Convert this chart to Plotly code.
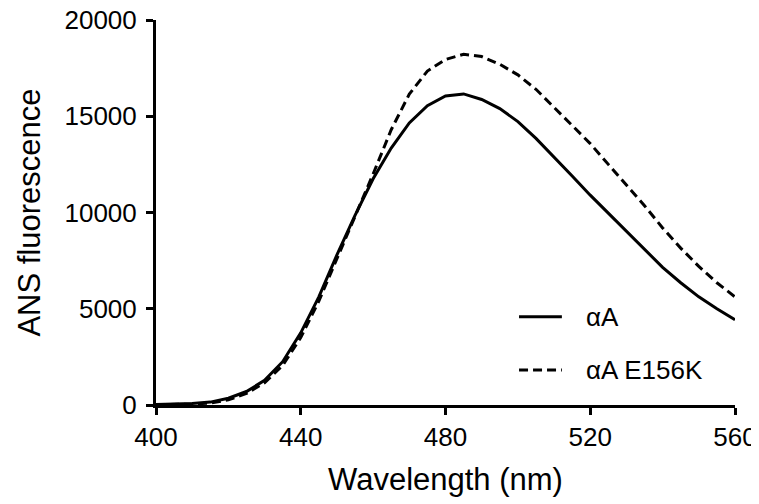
import plotly.graph_objects as go

wavelength = list(range(400, 561, 5))

alphaA = [20, 40, 80, 150, 350, 700, 1280, 2250, 3750, 5620, 7800, 9850, 11750,
          13350, 14650, 15550, 16050, 16160, 15870, 15400, 14720, 13850, 12900,
          11900, 10900, 9950, 9000, 8050, 7150, 6350, 5620, 5000, 4430]

alphaA_E156K = [10, 25, 50, 100, 270, 600, 1150, 2050, 3500, 5400, 7600, 9800, 12000,
                14300, 16150, 17350, 17950, 18220, 18100, 17700, 17150, 16400, 15470,
                14520, 13580, 12500, 11450, 10350, 9200, 8150, 7200, 6350, 5620]

series_names = ["αA", "αA E156K"]
x_ticks = [400, 440, 480, 520, 560]
y_ticks = [0, 5000, 10000, 15000, 20000]
y_tick_labels = ["0", "5000", "10000", "15000", "20000"]

FONT = "Liberation Sans, Arial, Helvetica, sans-serif"

fig = go.Figure()
fig.add_trace(go.Scatter(x=wavelength, y=alphaA, mode="lines", name=series_names[0],
                         line=dict(color="black", width=3), showlegend=False))
fig.add_trace(go.Scatter(x=wavelength, y=alphaA_E156K, mode="lines", name=series_names[1],
                         line=dict(color="black", width=3, dash="9px,5px"), showlegend=False))

# manual legend (paper coordinates)
legend_rows = [(0.229, "solid", series_names[0]), (0.091, "9px,5px", series_names[1])]
for yy, dash, label in legend_rows:
    fig.add_shape(type="line", xref="paper", yref="paper", x0=0.627, x1=0.701, y0=yy, y1=yy,
                  line=dict(color="black", width=3, dash=dash))
    fig.add_annotation(xref="paper", yref="paper", x=0.739, y=yy, text=label, showarrow=False,
                       xanchor="left", yanchor="middle", font=dict(size=26, color="black", family=FONT))

axis_common = dict(showline=True, linecolor="black", linewidth=3, ticks="outside",
                   ticklen=7, tickwidth=3, tickcolor="black", showgrid=False, zeroline=False,
                   ticklabeloverflow="allow", tickfont=dict(size=26, color="black", family=FONT))

fig.update_xaxes(range=[400, 560], tickvals=x_ticks, automargin="bottom", **axis_common,
                 title=dict(text="Wavelength (nm)", font=dict(size=31, color="black", family=FONT),
                            standoff=18))
fig.update_yaxes(range=[0, 20000], tickvals=y_ticks, ticktext=y_tick_labels, automargin=False,
                 **axis_common, ticklabelstandoff=4,
                 title=dict(text="ANS fluorescence", font=dict(size=31, color="black", family=FONT)))

# the page body adds an 8px offset, so the figure is sized to fit the 759x504 window
fig.update_layout(width=751, height=496, margin=dict(l=148, r=24, t=12, b=99),
                  plot_bgcolor="white", paper_bgcolor="white", font=dict(family=FONT))

fig.write_html("out.html")
